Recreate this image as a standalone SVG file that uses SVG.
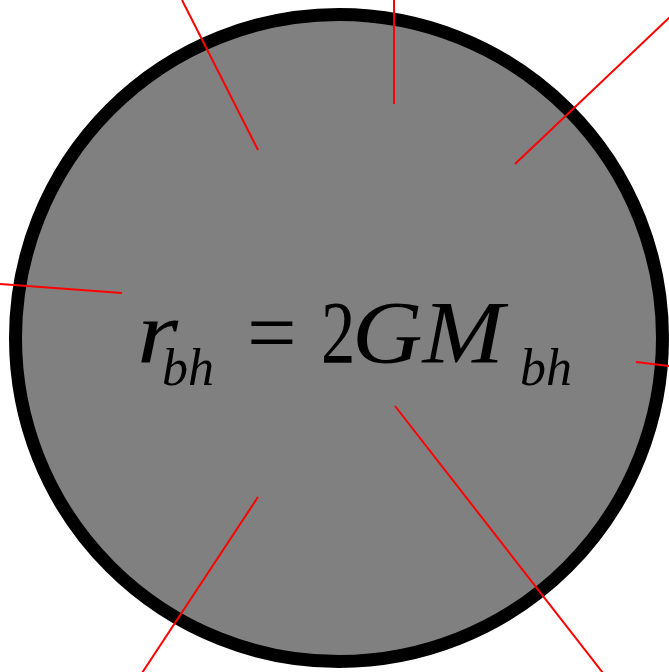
<svg xmlns="http://www.w3.org/2000/svg" width="669" height="672" viewBox="0 0 669 672">
<style>
.ray{stroke:#ff0000;stroke-width:2;fill:none}
.m{font-family:"Liberation Serif","Times New Roman",serif;fill:#000}
.it{font-style:italic}
.big{font-size:88px}
.sub{font-size:52px}
</style>
<rect width="669" height="672" fill="#fff"/>
<g id="blackhole">
<circle cx="339" cy="338" r="323.5" fill="#808080" stroke="#000" stroke-width="13"/>
</g>
<g id="rays">
<line class="ray" x1="182" y1="0" x2="258" y2="150"/>
<line class="ray" x1="394" y1="0" x2="394" y2="104"/>
<line class="ray" x1="670" y1="17" x2="515" y2="164"/>
<line class="ray" x1="0" y1="284" x2="122" y2="293"/>
<line class="ray" x1="636" y1="362" x2="670" y2="366"/>
<line class="ray" x1="395" y1="406" x2="603" y2="673"/>
<line class="ray" x1="258" y1="497" x2="142" y2="673"/>
</g>
<g id="formula">
<text class="m it big" transform="translate(137,362) scale(1.2,1)" x="0" y="0">r</text>
<text class="m it sub" x="162" y="385">bh</text>
<text class="m big" x="247" y="362">=</text>
<text class="m big" transform="translate(321,362) scale(0.78,1)" x="0" y="0">2</text>
<text class="m it big" x="352" y="362" textLength="152" lengthAdjust="spacingAndGlyphs">GM</text>
<text class="m it sub" x="520" y="385">bh</text>
</g>
</svg>
